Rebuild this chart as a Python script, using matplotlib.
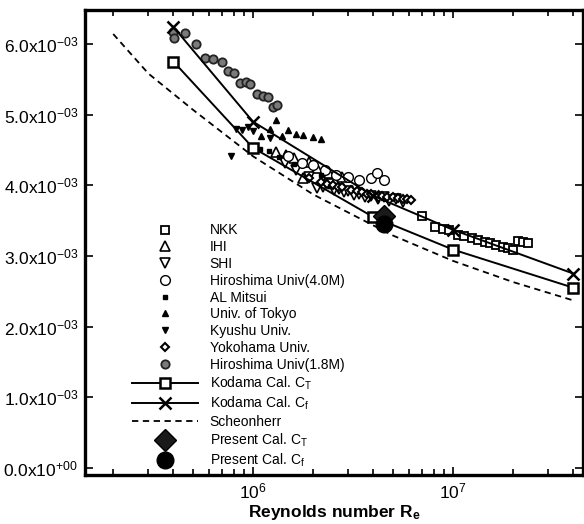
import numpy as np
import matplotlib.pyplot as plt
from matplotlib.ticker import FixedLocator, FixedFormatter, LogLocator, NullFormatter

plt.rcParams['font.family'] = ['Liberation Sans', 'DejaVu Sans']
plt.rcParams['mathtext.fontset'] = 'custom'
plt.rcParams['mathtext.rm'] = 'Liberation Sans'
plt.rcParams['mathtext.it'] = 'Liberation Sans:italic'
plt.rcParams['mathtext.bf'] = 'Liberation Sans:bold'
plt.rcParams['mathtext.default'] = 'regular'

# coefficient values are in units of 1e-3
nkk_re = [7.0e6, 8.1e6, 8.9e6, 9.6e6, 1.06e7, 1.14e7, 1.24e7, 1.34e7, 1.45e7,
          1.53e7, 1.65e7, 1.78e7, 1.89e7, 2.0e7, 2.12e7, 2.25e7, 2.38e7]
nkk_c = [3.56, 3.41, 3.38, 3.37, 3.30, 3.28, 3.26, 3.23, 3.20,
         3.18, 3.15, 3.12, 3.11, 3.08, 3.21, 3.20, 3.19]

ihi_re = [1.31e6, 1.47e6, 1.6e6, 1.78e6, 1.9e6, 2.1e6, 2.4e6, 2.8e6]
ihi_c = [4.47, 4.43, 4.38, 4.10, 4.33, 4.25, 4.18, 4.12]

shi_re = [1.45e6, 1.65e6, 1.9e6, 2.1e6, 2.25e6, 2.4e6, 2.55e6, 2.7e6, 2.85e6, 3.0e6,
          3.2e6, 3.4e6, 3.65e6, 3.9e6, 4.2e6, 4.5e6, 4.8e6, 5.2e6, 5.6e6]
shi_c = [4.32, 4.22, 4.12, 3.96, 3.98, 4.02, 3.93, 3.95, 3.90, 3.92,
         3.86, 3.88, 3.83, 3.85, 3.80, 3.83, 3.78, 3.80, 3.77]

hiro40_re = [1.5e6, 1.75e6, 2.0e6, 2.3e6, 2.6e6, 3.0e6, 3.4e6, 3.9e6, 4.15e6, 4.5e6]
hiro40_c = [4.42, 4.32, 4.28, 4.22, 4.15, 4.12, 4.08, 4.10, 4.17, 4.08]

mitsui_re = [1.08e6, 1.2e6, 1.35e6, 1.6e6, 2.2e6]
mitsui_c = [4.52, 4.48, 4.40, 4.30, 4.15]

tokyo_re = [1.10e6, 1.22e6, 1.31e6, 1.40e6, 1.50e6, 1.65e6, 1.78e6, 2.0e6, 2.2e6]
tokyo_c = [4.70, 4.80, 4.92, 4.70, 4.78, 4.73, 4.71, 4.68, 4.65]

kyushu_re = [7.76e5, 8.2e5, 8.8e5, 9.4e5, 1.0e6, 1.22e6]
kyushu_c = [4.41, 4.80, 4.78, 4.82, 4.77, 4.67]

yoko_re = [1.9e6, 2.2e6, 2.35e6, 2.5e6, 2.65e6, 2.8e6, 3.1e6, 3.3e6, 3.5e6, 3.7e6,
           3.9e6, 4.4e6, 4.7e6, 5.0e6, 5.3e6, 5.6e6, 5.9e6, 6.2e6]
yoko_c = [4.10, 4.05, 4.02, 4.00, 3.98, 3.97, 3.93, 3.92, 3.90, 3.88,
          3.87, 3.85, 3.84, 3.83, 3.82, 3.81, 3.80, 3.79]

hiro18_re = [3.98e5, 4.03e5, 4.57e5, 5.19e5, 5.75e5, 6.31e5, 7.0e5, 7.5e5, 8.04e5,
             8.61e5, 9.23e5, 9.66e5, 1.05e6, 1.12e6, 1.19e6, 1.26e6, 1.32e6]
hiro18_c = [6.17, 6.08, 6.15, 6.00, 5.80, 5.79, 5.74, 5.62, 5.59,
            5.45, 5.46, 5.43, 5.29, 5.27, 5.25, 5.11, 5.13]

kodama_ct_re = [4e5, 1e6, 4e6, 1e7, 4e7]
kodama_ct = [5.75, 4.53, 3.55, 3.09, 2.55]

kodama_cf_re = [4e5, 1e6, 4e6, 1e7, 4e7]
kodama_cf = [6.24, 4.90, 3.85, 3.37, 2.75]

schoen_re = [2e5, 3e5, 5e5, 1e6, 2e6, 5e6, 1e7, 2e7, 4e7]
schoen_cf = [6.14, 5.58, 5.07, 4.41, 3.87, 3.29, 2.93, 2.63, 2.37]

present_re = [4.5e6]
present_ct = [3.57]
present_cf = [3.45]

yticks = [0, 1, 2, 3, 4, 5, 6]
ytick_labels = ['0.0x10$^{+00}$', '1.0x10$^{-03}$', '2.0x10$^{-03}$', '3.0x10$^{-03}$',
                '4.0x10$^{-03}$', '5.0x10$^{-03}$', '6.0x10$^{-03}$']


def s(vals):
    return np.array(vals) * 1e-3


fig = plt.figure(figsize=(5.84, 5.24), dpi=100)
ax = fig.add_axes([85 / 584, 49 / 524, 498 / 584, 465 / 524])

k = 'black'
ax.plot(nkk_re, s(nkk_c), ls='none', marker='s', ms=6, mfc='white', mec=k, mew=1.3, label='NKK')
ax.plot(ihi_re, s(ihi_c), ls='none', marker='^', ms=6.5, mfc='white', mec=k, mew=1.2, label='IHI')
ax.plot(shi_re, s(shi_c), ls='none', marker='v', ms=6.5, mfc='white', mec=k, mew=1.2, label='SHI')
ax.plot(hiro40_re, s(hiro40_c), ls='none', marker='o', ms=7, mfc='white', mec=k, mew=1.0,
        label='Hiroshima Univ(4.0M)')
ax.plot(mitsui_re, s(mitsui_c), ls='none', marker='s', ms=3.5, mfc=k, mec=k, label='AL Mitsui')
ax.plot(tokyo_re, s(tokyo_c), ls='none', marker='^', ms=4.5, mfc=k, mec=k, label='Univ. of Tokyo')
ax.plot(kyushu_re, s(kyushu_c), ls='none', marker='v', ms=5, mfc=k, mec=k, label='Kyushu Univ.')
ax.plot(yoko_re, s(yoko_c), ls='none', marker='D', ms=4, mfc='white', mec=k, mew=1.5,
        label='Yokohama Univ.')
ax.plot(hiro18_re, s(hiro18_c), ls='none', marker='o', ms=6, mfc='#7a7a7a', mec='#222222', mew=1.3,
        label='Hiroshima Univ(1.8M)')
ax.plot(kodama_ct_re, s(kodama_ct), color=k, lw=1.4, marker='s', ms=7, mfc='white', mec=k, mew=1.8,
        label='Kodama Cal. C$_T$')
ax.plot(kodama_cf_re, s(kodama_cf), color=k, lw=1.4, marker='x', ms=8, mec=k, mew=1.8,
        label='Kodama Cal. C$_f$')
ax.plot(schoen_re, s(schoen_cf), color=k, lw=1.3, ls=(0, (3.5, 2.5)), label='Scheonherr')
ax.plot(present_re, s(present_ct), ls='none', marker='D', ms=11, mfc='#1a1a1a', mec=k,
        label='Present Cal. C$_T$')
ax.plot(present_re, s(present_cf), ls='none', marker='o', ms=12, mfc=k, mec=k,
        label='Present Cal. C$_f$')

ax.set_xscale('log')
ax.set_xlim(1.445e5, 4.47e7)
ax.set_ylim(-0.1e-3, 6.48e-3)

ax.xaxis.set_major_locator(FixedLocator([1e6, 1e7]))
ax.xaxis.set_major_formatter(FixedFormatter(['10$^6$', '10$^7$']))
ax.xaxis.set_minor_locator(LogLocator(base=10, subs=np.arange(2, 10)))
ax.xaxis.set_minor_formatter(NullFormatter())
ax.yaxis.set_major_locator(FixedLocator(s(yticks)))
ax.yaxis.set_major_formatter(FixedFormatter(ytick_labels))

ax.tick_params(which='both', direction='in', top=True, right=True, width=1.2, colors=k)
ax.tick_params(which='major', length=6, labelsize=12.5, pad=5)
ax.tick_params(which='minor', length=4)
for sp in ax.spines.values():
    sp.set_linewidth(2.4)

ax.set_xlabel('Reynolds number R$_e$', fontsize=12.5, fontweight='bold', labelpad=1)

leg = ax.legend(loc='upper left', bbox_to_anchor=(0.094, 0.541), frameon=False, fontsize=10,
                numpoints=1, handlelength=4.75, handletextpad=0.86, labelspacing=0.2,
                borderpad=0, borderaxespad=0)
leg.set_zorder(5)

fig.savefig('out.png', dpi=100)
